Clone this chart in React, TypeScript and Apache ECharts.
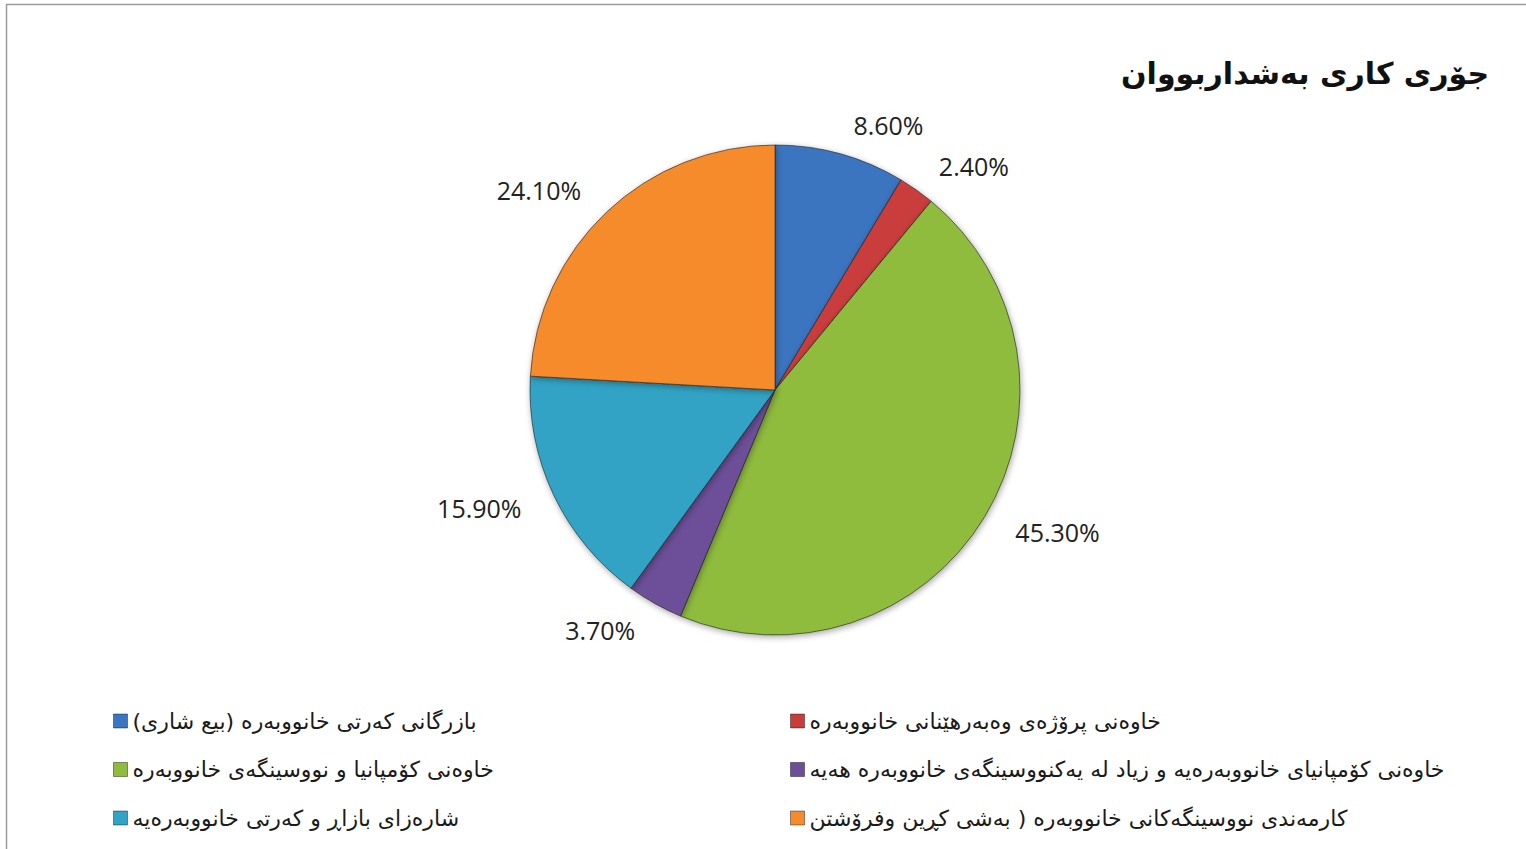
import React, { useEffect, useRef } from "react";
import * as echarts from "echarts";

const titleText = "جۆری کاری بەشداربووان";

const categories = [
  "(بازرگانی کەرتی خانووبەرە (بیع شاری",
  "خاوەنی پرۆژەی وەبەرهێنانی خانووبەرە",
  "خاوەنی کۆمپانیا و نووسینگەی خانووبەرە",
  "خاوەنی کۆمپانیای خانووبەرەیە و زیاد لە یەکنووسینگەی خانووبەرە هەیە",
  "شارەزای بازاڕ و کەرتی خانووبەرەیە",
  "کارمەندی نووسینگەکانی خانووبەرە ( بەشی کڕین وفرۆشتن",
];

const percentages = [8.6, 2.4, 45.3, 3.7, 15.9, 24.1];

const colors = ["#3a75c0", "#c93c3c", "#8fbc3e", "#6d4f99", "#31a3c5", "#f58b2c"];

const leftLegend = [categories[0], categories[2], categories[4]];
const rightLegend = [categories[1], categories[3], categories[5]];

export default function App() {
  const ref = useRef<HTMLDivElement>(null);

  useEffect(() => {
    if (!ref.current) return;
    const chart = echarts.init(ref.current, null, { renderer: "svg" });
    const legendCommon = {
      orient: "vertical" as const,
      top: 702,
      itemWidth: 14,
      itemHeight: 14,
      itemGap: 20.5,
      icon: "rect",
      textStyle: {
        fontSize: 22,
        lineHeight: 28,
        color: "#1a1a1a",
        fontFamily: "DejaVu Sans",
      },
      itemStyle: { borderColor: "rgba(0,0,0,0.4)", borderWidth: 1 },
    };
    chart.setOption({
      animation: false,
      backgroundColor: "#ffffff",
      color: colors,
      title: {
        text: titleText,
        right: 32,
        top: 53,
        textStyle: {
          fontSize: 30,
          fontWeight: "bold",
          color: "#111",
          fontFamily: "DejaVu Sans",
        },
      },
      graphic: [
        {
          type: "rect",
          shape: { x: 6.5, y: 4.5, width: 1600, height: 900 },
          style: { fill: "none", stroke: "#9c9c9c", lineWidth: 1.5 },
          silent: true,
        },
      ],
      legend: [
        { ...legendCommon, left: 108, data: leftLegend },
        { ...legendCommon, left: 785, data: rightLegend },
      ],
      series: [
        {
          type: "pie",
          center: [775, 390],
          radius: 245,
          startAngle: 90,
          clockwise: true,
          avoidLabelOverlap: false,
          itemStyle: {
            borderColor: "rgba(30,30,30,0.6)",
            borderWidth: 1,
            shadowBlur: 6,
            shadowColor: "rgba(0,0,0,0.35)",
            shadowOffsetX: 1,
            shadowOffsetY: 2,
          },
          label: {
            show: true,
            position: "outside",
            fontSize: 25,
            fontFamily: "Open Sans",
            color: "#222222",
            formatter: (p: any) => `${Number(p.value).toFixed(2)}%`,
          },
          labelLine: { show: false, length: 30, length2: 0 },
          emphasis: { disabled: true },
          data: categories.map((name, i) => ({ name, value: percentages[i] })),
        },
      ],
    });
    return () => chart.dispose();
  }, []);

  return (
    <div
      ref={ref}
      style={{ position: "absolute", left: 0, top: 0, width: 1526, height: 849 }}
    />
  );
}
